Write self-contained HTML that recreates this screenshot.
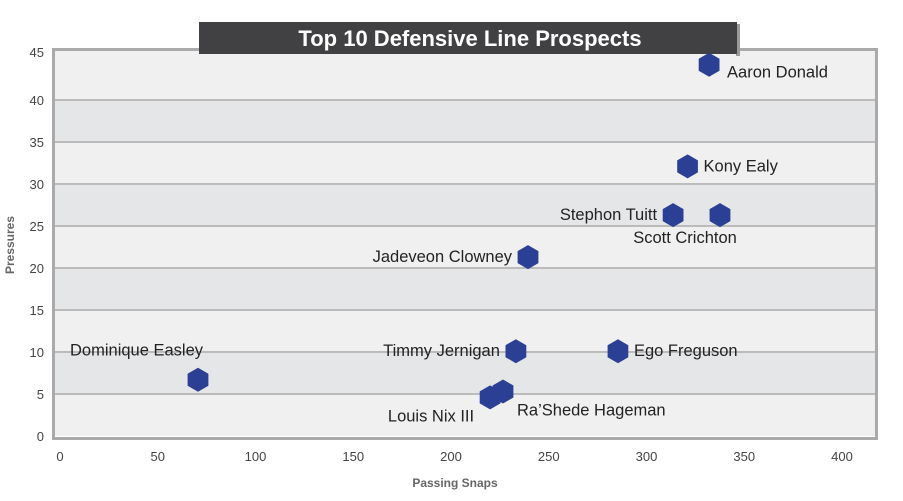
<!DOCTYPE html>
<html><head><meta charset="utf-8"><style>
body{margin:0;background:#fff;width:903px;height:496px;overflow:hidden;font-family:"Liberation Sans",sans-serif}
</style></head><body>
<svg width="903" height="496">
<g id="bands"></g>
<g id="grid"></g>
<rect x="53.5" y="49.5" width="823" height="389" fill="none" stroke="#aaa" stroke-width="3"/>
<rect x="736" y="24" width="4" height="32" fill="#999"/>
<rect x="199" y="22" width="538" height="32" fill="#414042"/>
<text x="470" y="46" text-anchor="middle" font-size="22" font-weight="bold" fill="#fff">Top 10 Defensive Line Prospects</text>
<g id="yticks"></g><g id="xticks"></g><g id="points"></g>
<text x="455" y="487" text-anchor="middle" font-size="12" font-weight="bold" fill="#666">Passing Snaps</text>
<text transform="translate(14,245) rotate(-90)" text-anchor="middle" font-size="12" font-weight="bold" fill="#666">Pressures</text>
</svg>
<script>
const names=["Aaron Donald","Kony Ealy","Stephon Tuitt","Scott Crichton","Jadeveon Clowney","Timmy Jernigan","Ego Freguson","Dominique Easley","Louis Nix III","Ra’Shede Hageman"];
const snaps=[332,321,313.6,337.6,239.4,233.2,285.4,70.6,220,226.6];
const pressures=[44.2,32.1,26.3,26.3,21.3,10.1,10.1,6.7,4.6,5.3];
const labelSide=["br2","r","l","b","l","l","r","tl","bl","br"];
const xTicks=[0,50,100,150,200,250,300,350,400];
const yTicks=[0,5,10,15,20,25,30,35,40,45];
const NS="http://www.w3.org/2000/svg";
const X=v=>60+v*1.955, Y=v=>436-v*8.4;
function mk(t,a,p){const e=document.createElementNS(NS,t);for(const k in a)e.setAttribute(k,a[k]);p.appendChild(e);return e;}
const bands=document.getElementById('bands'),grid=document.getElementById('grid');
for(let i=0;i<9;i++){
  const top=i===8?50:Y((i+1)*5);
  const r=mk('rect',{x:55,y:top,width:820,height:Y(i*5)-top,fill:i%2?'#e5e6e8':'#f0f0f0'},bands);
  
  
}
for(let i=1;i<9;i++){
  const l=mk('line',{x1:55,x2:875,y1:Y(i*5),y2:Y(i*5),stroke:'#bbb','stroke-width':2},grid);
  
  
}
const yt=document.getElementById('yticks');
yTicks.forEach(v=>{const t=mk('text',{x:44,y:(v===45?Y(v)-1:Y(v)+5),'text-anchor':'end','font-size':13,fill:'#444'},yt);t.textContent=v;
  
  });
const xt=document.getElementById('xticks');
xTicks.forEach(v=>{const t=mk('text',{x:X(v),y:461,'text-anchor':'middle','font-size':13,fill:'#444'},xt);t.textContent=v;
  
  });
const pg=document.getElementById('points');
names.forEach((n,i)=>{
  const cx=X(snaps[i]),cy=Y(pressures[i]),r=12;
  let pts=[];for(let k=0;k<6;k++){const a=Math.PI/3*k-Math.PI/2;pts.push((cx+r*Math.cos(a)).toFixed(1)+','+(cy+r*Math.sin(a)).toFixed(1));}
  const h=mk('polygon',{points:pts.join(' '),fill:'#2b3f94'},pg);
  
  
  const s=labelSide[i];let lx=cx,ly=cy+5,anc='start';
  if(s==='r'){lx=cx+16;}
  else if(s==='br2'){lx=cx+18;ly=cy+13;}
  else if(s==='l'){lx=cx-16;anc='end';}
  else if(s==='b'){ly=cy+28;anc='middle';lx=cx-35;}
  else if(s==='tl'){lx=cx-128;ly=cy-24;anc='start';}
  else if(s==='bl'){lx=cx-16;ly=cy+24;anc='end';}
  else if(s==='br'){lx=cx+14;ly=cy+24;}
  const t=mk('text',{x:lx,y:ly,'text-anchor':anc,'font-size':16.5,fill:'#222'},pg);t.textContent=n;
  
  
});
</script>
</body></html>
